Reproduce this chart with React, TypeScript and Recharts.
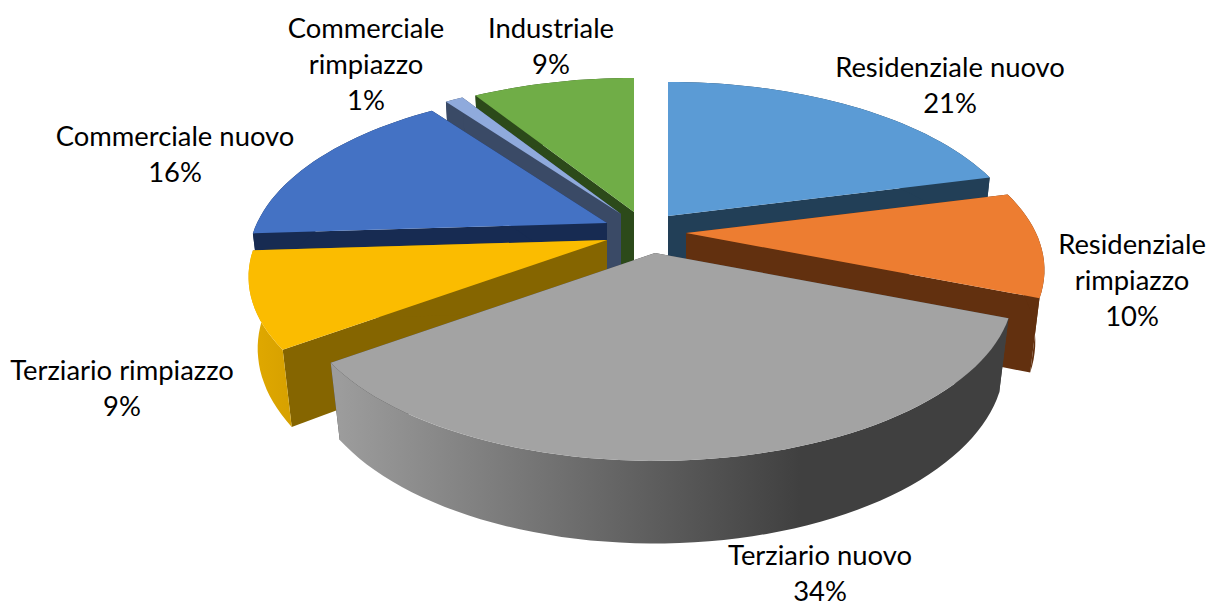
import React from 'react'
import { PieChart, Pie } from 'recharts'

const NAMES = [
  'Residenziale nuovo',
  'Residenziale rimpiazzo',
  'Terziario nuovo',
  'Terziario rimpiazzo',
  'Commerciale nuovo',
  'Commerciale rimpiazzo',
  'Industriale',
]
const VALUES = [21, 10, 34, 9, 16, 1, 9]

// label text is split the way it wraps in the picture
const LABEL_LINES = [
  ['Residenziale nuovo'],
  ['Residenziale', 'rimpiazzo'],
  ['Terziario nuovo'],
  ['Terziario rimpiazzo'],
  ['Commerciale nuovo'],
  ['Commerciale', 'rimpiazzo'],
  ['Industriale'],
]
const LABEL_X = [950, 1132, 820, 122, 175, 366, 551]
const LABEL_Y = [77, 254, 565, 380, 146, 38, 38]
const LINE_HEIGHT = 36

const TOP_COLORS = ['#5B9BD5', '#ED7D31', '#A3A3A3', '#FBBC00', '#4472C4', '#8FAADC', '#70AD47']
const SIDE_COLORS = ['#223F57', '#62300F', '#404040', '#856500', '#172B52', '#3A4A66', '#2C4A1A']
const OUTER_COLORS = ['#223F57', '#62300F', 'url(#grayWall)', 'url(#yellowWall)', '#172B52', '#3A4A66', '#2C4A1A']

// how far each slice is pulled away from the centre, px
const EXPLODE_X = [31, 49, 18, -30, -30, -16, -3]
const EXPLODE_Y = [-10, 7, 27, 14, -3, -12, -14]

// back to front
const DRAW_ORDER = [6, 5, 4, 3, 0, 1, 2]

const TILT = 163 / 350
const PERSPECTIVE = 0.216
const PERSPECTIVE_DEPTH = 0.025
const DEPTH = 72
const RAD = Math.PI / 180

const data = NAMES.map((name, i) => ({ name, value: VALUES[i] }))

function Slice3D(props: any) {
  const { cx, cy, outerRadius, startAngle, endAngle, name } = props
  const i = NAMES.indexOf(name)
  const ox = cx + EXPLODE_X[i]
  const oy = cy + EXPLODE_Y[i]

  const project = (angle: number | null, z: number) => {
    const u = angle === null ? 0 : Math.cos(angle * RAD)
    const v = angle === null ? 0 : -Math.sin(angle * RAD)
    const w = 1 / (1 - PERSPECTIVE * v + PERSPECTIVE_DEPTH * z)
    return `${(ox + u * outerRadius * w).toFixed(1)} ${(oy + (v * outerRadius * TILT + z * DEPTH) * w).toFixed(1)}`
  }

  const steps = Math.max(2, Math.ceil(Math.abs(endAngle - startAngle) / 2))
  const arc: number[] = []
  for (let s = 0; s <= steps; s++) arc.push(startAngle + ((endAngle - startAngle) * s) / steps)

  const top = `M${project(null, 0)} ` + arc.map((a) => `L${project(a, 0)}`).join(' ') + ' Z'
  const outer =
    'M' + arc.map((a) => project(a, 0)).join(' L') + ' L' + [...arc].reverse().map((a) => project(a, 1)).join(' L') + ' Z'
  const side = (a: number) => `M${project(null, 0)} L${project(a, 0)} L${project(a, 1)} L${project(null, 1)} Z`

  return (
    <g>
      <defs>
        <linearGradient id="grayWall" gradientUnits="userSpaceOnUse" x1={340} y1={0} x2={800} y2={0}>
          <stop offset="0" stopColor="#9C9C9C" />
          <stop offset="1" stopColor="#404040" />
        </linearGradient>
        <linearGradient id="yellowWall" gradientUnits="userSpaceOnUse" x1={245} y1={0} x2={300} y2={0}>
          <stop offset="0" stopColor="#E2AA00" />
          <stop offset="1" stopColor="#D49F00" />
        </linearGradient>
      </defs>
      <path d={side(startAngle)} fill={SIDE_COLORS[i]} />
      <path d={side(endAngle)} fill={SIDE_COLORS[i]} />
      <path d={outer} fill={OUTER_COLORS[i]} />
      <path d={top} fill={TOP_COLORS[i]} />
    </g>
  )
}

function SliceLabels() {
  return (
    <g fontFamily="Lato, Carlito, sans-serif" fontSize={27.4} fill="#000" textAnchor="middle">
      {NAMES.map((name, i) => (
        <text key={name} x={LABEL_X[i]} y={LABEL_Y[i]}>
          {[...LABEL_LINES[i], `${VALUES[i]}%`].map((line, l) => (
            <tspan key={l} x={LABEL_X[i]} y={LABEL_Y[i] + l * LINE_HEIGHT}>
              {line}
            </tspan>
          ))}
        </text>
      ))}
    </g>
  )
}

export default function App() {
  return (
    <div style={{ position: 'absolute', left: 0, top: 0, width: 1211, height: 607, background: '#fff' }}>
      <PieChart width={1211} height={607} margin={{ top: 0, right: 0, bottom: 0, left: 0 }}>
        {DRAW_ORDER.map((layer) => (
          <Pie
            key={layer}
            data={data}
            dataKey="value"
            nameKey="name"
            cx={637}
            cy={226}
            innerRadius={0}
            outerRadius={350}
            startAngle={90}
            endAngle={-270}
            paddingAngle={0}
            stroke="none"
            isAnimationActive={false}
            shape={(props: any) => (props.name === NAMES[layer] ? <Slice3D {...props} /> : <g />)}
          />
        ))}
        <SliceLabels />
      </PieChart>
    </div>
  )
}
